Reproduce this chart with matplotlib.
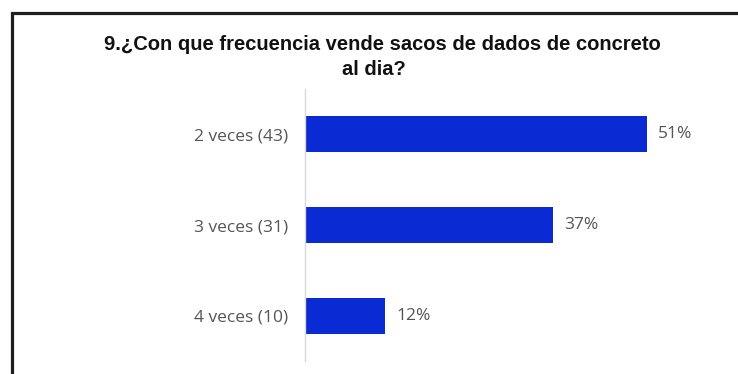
import matplotlib
matplotlib.use("Agg")
import matplotlib.pyplot as plt
from matplotlib.patches import Rectangle

categories = ["2 veces (43)", "3 veces (31)", "4 veces (10)"]
percents = [51, 37, 12]
value_labels = ["51%", "37%", "12%"]
title_line1 = "9.¿Con que frecuencia vende sacos de dados de concreto"
title_line2 = "al dia?"

W, H = 738, 374
fig = plt.figure(figsize=(W / 100, H / 100), dpi=100)

# frame border (extends beyond right/bottom edge)
fig.patches.append(Rectangle((12 / W, -0.1), 1.2, (H - 13.5) / H + 0.1, transform=fig.transFigure,
                             fill=False, edgecolor="#1e1e1e", linewidth=2.3))

ax_left, ax_right = 305, 737
ax_top, ax_bottom = 89, 361
ax = fig.add_axes([ax_left / W, 1 - ax_bottom / H, (ax_right - ax_left) / W, (ax_bottom - ax_top) / H])

y = list(range(len(categories)))
ax.barh(y, percents, height=0.4, color="#0A2AD4")
ax.set_ylim(len(categories) - 0.5, -0.5)
ax.set_xlim(0, 64.4)
ax.set_yticks(y)
ax.set_yticklabels(categories, fontsize=12.5, color="#555555", family=["Open Sans", "DejaVu Sans"])
ax.tick_params(axis="y", length=0, pad=12)
ax.set_xticks([])
for s in ["top", "right", "bottom"]:
    ax.spines[s].set_visible(False)
ax.spines["left"].set_color("#d9d9d9")
ax.spines["left"].set_linewidth(1)

for yi, v, lab in zip(y, percents, value_labels):
    ax.annotate(lab, (v, yi), xytext=(11, 0), textcoords="offset pixels",
                va="center", ha="left", fontsize=12.5, color="#555555", family=["Open Sans", "DejaVu Sans"])

tfont = dict(fontsize=14.5, fontweight="bold", family=["Liberation Sans Narrow", "Liberation Sans", "DejaVu Sans"],
             color="#111111")
fig.text(382 / W, 1 - 50 / H, title_line1, ha="center", va="baseline", **tfont)
fig.text(374 / W, 1 - 75 / H, title_line2, ha="center", va="baseline", **tfont)

fig.savefig("out.png", dpi=100)
